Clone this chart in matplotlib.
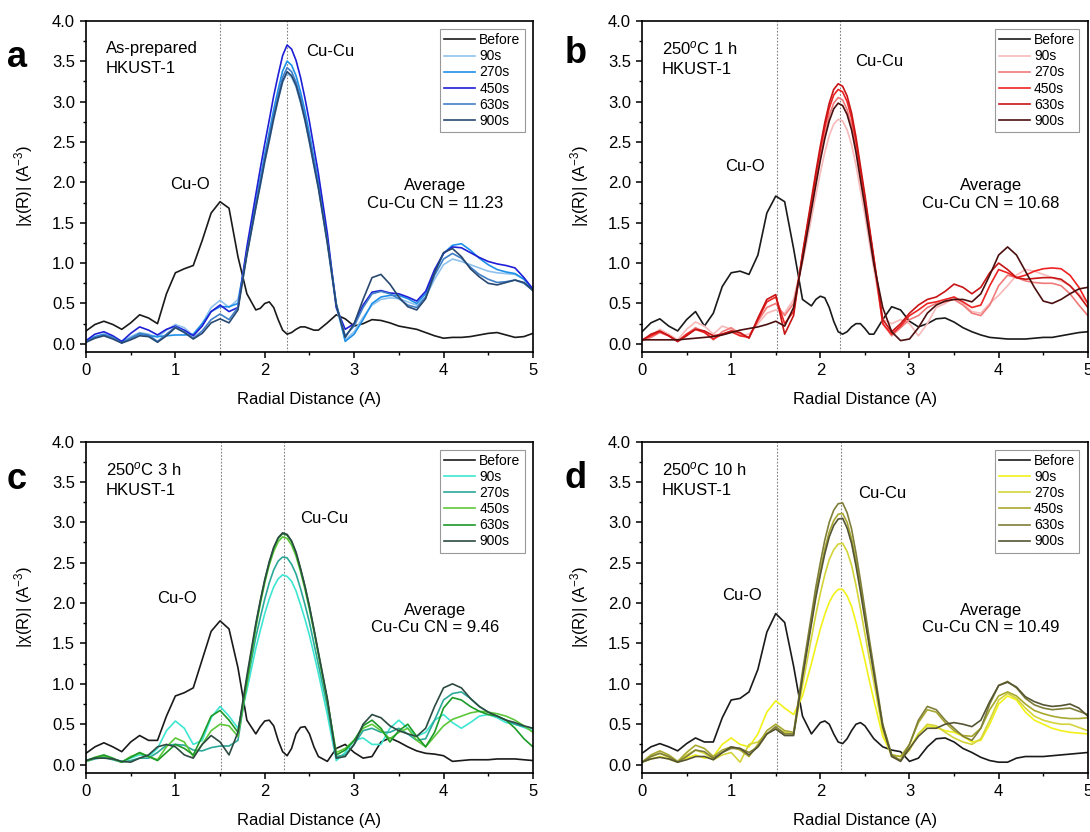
import matplotlib
matplotlib.use("Agg")
import matplotlib.pyplot as plt
from matplotlib.ticker import MultipleLocator

plt.rcParams['font.family'] = ['Liberation Sans', 'DejaVu Sans']
plt.rcParams['mathtext.fontset'] = 'custom'
plt.rcParams['mathtext.rm'] = 'Liberation Sans'
plt.rcParams['mathtext.it'] = 'Liberation Sans:italic'

# radial distance grid (denser over the Cu-Cu peak)
R = [0.0, 0.1, 0.2, 0.3, 0.4, 0.5, 0.6, 0.7, 0.8, 0.9,
     1.0, 1.1, 1.2, 1.3, 1.4, 1.5, 1.6, 1.7, 1.8, 1.9,
     1.95, 2.0, 2.05, 2.1, 2.15, 2.2, 2.25, 2.3, 2.35, 2.4,
     2.45, 2.5, 2.55, 2.6,
     2.7, 2.8, 2.9, 3.0, 3.1, 3.2, 3.3, 3.4, 3.5, 3.6,
     3.7, 3.8, 3.9, 4.0, 4.1, 4.2, 4.3, 4.4, 4.5, 4.6,
     4.7, 4.8, 4.9, 5.0]

labels = ['Before', '90s', '270s', '450s', '630s', '900s']

# ---- panel a: as-prepared
a_before = [0.16, 0.24, 0.28, 0.24, 0.18, 0.26, 0.36, 0.32, 0.25, 0.62, 0.88, 0.93, 0.97, 1.28, 1.62, 1.76, 1.68, 1.08, 0.62, 0.42,
            0.44, 0.50, 0.52, 0.45, 0.30, 0.17, 0.12, 0.14, 0.18, 0.21, 0.21, 0.19, 0.17, 0.17,
            0.26, 0.36, 0.31, 0.22, 0.25, 0.30, 0.29, 0.26, 0.22, 0.20, 0.18, 0.14, 0.10, 0.07, 0.08, 0.08, 0.09, 0.11, 0.13, 0.14, 0.11, 0.08, 0.09, 0.13]
a_90 = [0.03, 0.08, 0.11, 0.08, 0.03, 0.09, 0.14, 0.12, 0.08, 0.17, 0.24, 0.20, 0.10, 0.25, 0.45, 0.54, 0.45, 0.55, 1.10, 1.68,
        1.96, 2.25, 2.51, 2.78, 3.02, 3.24, 3.35, 3.30, 3.18, 2.99, 2.76, 2.49, 2.20, 1.92,
        1.24, 0.45, 0.05, 0.15, 0.33, 0.48, 0.55, 0.57, 0.56, 0.52, 0.48, 0.58, 0.80, 0.98, 1.05, 1.02, 0.98, 0.94, 0.90, 0.88, 0.87, 0.86, 0.80, 0.67]
a_270 = [0.04, 0.09, 0.12, 0.08, 0.02, 0.07, 0.12, 0.10, 0.09, 0.10, 0.11, 0.11, 0.12, 0.25, 0.40, 0.46, 0.46, 0.50, 1.15, 1.75,
         2.05, 2.35, 2.62, 2.90, 3.15, 3.38, 3.50, 3.45, 3.32, 3.12, 2.88, 2.60, 2.30, 2.00,
         1.30, 0.50, 0.03, 0.12, 0.30, 0.50, 0.58, 0.60, 0.60, 0.56, 0.50, 0.62, 0.88, 1.12, 1.22, 1.24, 1.16, 1.06, 0.98, 0.92, 0.89, 0.87, 0.80, 0.67]
a_450 = [0.04, 0.12, 0.15, 0.10, 0.03, 0.13, 0.21, 0.17, 0.11, 0.18, 0.22, 0.17, 0.10, 0.22, 0.40, 0.48, 0.40, 0.45, 1.20, 1.85,
         2.17, 2.48, 2.77, 3.07, 3.33, 3.57, 3.70, 3.65, 3.51, 3.30, 3.04, 2.75, 2.43, 2.11,
         1.37, 0.45, 0.18, 0.25, 0.48, 0.64, 0.66, 0.63, 0.62, 0.58, 0.53, 0.65, 0.92, 1.12, 1.20, 1.19, 1.13, 1.07, 1.02, 0.99, 0.97, 0.94, 0.82, 0.68]
a_630 = [0.02, 0.08, 0.11, 0.08, 0.01, 0.07, 0.13, 0.11, 0.03, 0.12, 0.21, 0.15, 0.07, 0.16, 0.30, 0.37, 0.30, 0.45, 1.12, 1.71,
         2.00, 2.30, 2.56, 2.83, 3.08, 3.30, 3.42, 3.37, 3.24, 3.05, 2.81, 2.54, 2.25, 1.95,
         1.27, 0.49, 0.10, 0.22, 0.45, 0.62, 0.65, 0.62, 0.56, 0.48, 0.45, 0.58, 0.85, 1.05, 1.12, 1.06, 0.95, 0.86, 0.80, 0.76, 0.77, 0.79, 0.75, 0.66]
a_900 = [0.02, 0.07, 0.10, 0.06, 0.01, 0.05, 0.10, 0.09, 0.02, 0.10, 0.20, 0.14, 0.06, 0.13, 0.26, 0.31, 0.26, 0.42, 1.10, 1.69,
         1.97, 2.26, 2.52, 2.79, 3.03, 3.25, 3.37, 3.32, 3.20, 3.00, 2.77, 2.50, 2.21, 1.93,
         1.25, 0.48, 0.08, 0.25, 0.55, 0.82, 0.86, 0.74, 0.58, 0.46, 0.42, 0.56, 0.88, 1.13, 1.18, 1.08, 0.93, 0.83, 0.75, 0.73, 0.76, 0.79, 0.76, 0.66]

# ---- panel b: 250C 1 h
b_before = [0.15, 0.26, 0.31, 0.22, 0.16, 0.30, 0.40, 0.22, 0.38, 0.71, 0.88, 0.90, 0.86, 1.10, 1.62, 1.83, 1.76, 1.18, 0.55, 0.47,
            0.55, 0.59, 0.57, 0.45, 0.28, 0.15, 0.12, 0.15, 0.21, 0.25, 0.25, 0.19, 0.12, 0.12,
            0.30, 0.46, 0.42, 0.28, 0.21, 0.25, 0.31, 0.32, 0.27, 0.20, 0.15, 0.11, 0.08, 0.07, 0.06, 0.06, 0.06, 0.07, 0.08, 0.08, 0.10, 0.12, 0.14, 0.15]
b_90 = [0.05, 0.10, 0.18, 0.12, 0.05, 0.18, 0.27, 0.22, 0.12, 0.22, 0.18, 0.10, 0.12, 0.25, 0.38, 0.42, 0.38, 0.55, 1.00, 1.55,
        1.84, 2.12, 2.37, 2.58, 2.72, 2.78, 2.76, 2.65, 2.47, 2.21, 1.90, 1.59, 1.25, 0.93,
        0.30, 0.25, 0.30, 0.25, 0.10, 0.25, 0.45, 0.50, 0.58, 0.50, 0.40, 0.38, 0.50, 0.60, 0.72, 0.85, 0.92, 0.90, 0.86, 0.82, 0.78, 0.72, 0.62, 0.50]
b_270 = [0.04, 0.08, 0.14, 0.10, 0.03, 0.12, 0.20, 0.15, 0.05, 0.15, 0.20, 0.12, 0.08, 0.28, 0.45, 0.50, 0.35, 0.50, 1.06, 1.69,
         2.01, 2.32, 2.59, 2.83, 2.98, 3.05, 3.02, 2.90, 2.71, 2.42, 2.08, 1.74, 1.38, 1.02,
         0.25, 0.10, 0.20, 0.30, 0.35, 0.45, 0.50, 0.52, 0.55, 0.48, 0.38, 0.35, 0.48, 0.72, 0.85, 0.82, 0.78, 0.76, 0.75, 0.75, 0.72, 0.62, 0.48, 0.35]
b_450 = [0.05, 0.10, 0.15, 0.10, 0.03, 0.12, 0.18, 0.14, 0.06, 0.12, 0.15, 0.10, 0.08, 0.30, 0.52, 0.58, 0.25, 0.40, 1.10, 1.75,
         2.08, 2.40, 2.68, 2.92, 3.08, 3.15, 3.12, 3.00, 2.80, 2.50, 2.15, 1.80, 1.42, 1.05,
         0.25, 0.12, 0.22, 0.35, 0.42, 0.50, 0.52, 0.55, 0.58, 0.52, 0.45, 0.48, 0.72, 0.92, 0.88, 0.82, 0.85, 0.90, 0.93, 0.94, 0.93, 0.85, 0.70, 0.50]
b_630 = [0.04, 0.12, 0.16, 0.10, 0.03, 0.10, 0.18, 0.16, 0.10, 0.12, 0.16, 0.14, 0.07, 0.32, 0.55, 0.61, 0.12, 0.35, 1.12, 1.79,
         2.13, 2.45, 2.74, 2.98, 3.15, 3.22, 3.19, 3.07, 2.86, 2.56, 2.20, 1.84, 1.45, 1.07,
         0.30, 0.15, 0.25, 0.38, 0.48, 0.55, 0.58, 0.65, 0.74, 0.70, 0.62, 0.70, 0.88, 1.00, 0.92, 0.82, 0.80, 0.81, 0.82, 0.82, 0.80, 0.72, 0.60, 0.45]
b_900 = [0.05, 0.05, 0.05, 0.05, 0.05, 0.06, 0.07, 0.08, 0.09, 0.11, 0.14, 0.17, 0.19, 0.21, 0.24, 0.28, 0.22, 0.45, 1.04, 1.66,
         1.97, 2.27, 2.54, 2.76, 2.91, 2.98, 2.95, 2.84, 2.65, 2.37, 2.03, 1.70, 1.34, 0.99,
         0.45, 0.15, 0.04, 0.06, 0.20, 0.38, 0.48, 0.53, 0.55, 0.55, 0.52, 0.62, 0.85, 1.10, 1.20, 1.10, 0.90, 0.70, 0.53, 0.50, 0.55, 0.62, 0.68, 0.70]

# ---- panel c: 250C 3 h
c_before = [0.14, 0.22, 0.27, 0.22, 0.16, 0.28, 0.36, 0.30, 0.30, 0.60, 0.85, 0.89, 0.95, 1.30, 1.65, 1.78, 1.68, 1.20, 0.55, 0.38,
            0.47, 0.54, 0.55, 0.48, 0.30, 0.16, 0.11, 0.20, 0.38, 0.46, 0.47, 0.38, 0.22, 0.10,
            0.04, 0.20, 0.25, 0.15, 0.08, 0.10, 0.28, 0.33, 0.28, 0.22, 0.17, 0.14, 0.13, 0.11, 0.04, 0.05, 0.06, 0.06, 0.06, 0.07, 0.07, 0.07, 0.06, 0.05]
c_90 = [0.05, 0.08, 0.10, 0.07, 0.04, 0.08, 0.12, 0.10, 0.20, 0.42, 0.54, 0.45, 0.25, 0.30, 0.58, 0.72, 0.60, 0.45, 0.92, 1.44,
        1.66, 1.87, 2.05, 2.20, 2.30, 2.35, 2.33, 2.27, 2.15, 1.98, 1.80, 1.60, 1.37, 1.13,
        0.62, 0.05, 0.15, 0.30, 0.33, 0.25, 0.25, 0.45, 0.55, 0.45, 0.35, 0.40, 0.55, 0.62, 0.52, 0.45, 0.52, 0.60, 0.62, 0.58, 0.52, 0.50, 0.46, 0.42]
c_270 = [0.04, 0.07, 0.09, 0.06, 0.03, 0.05, 0.08, 0.08, 0.15, 0.24, 0.25, 0.24, 0.18, 0.17, 0.21, 0.23, 0.23, 0.30, 1.00, 1.58,
         1.82, 2.05, 2.25, 2.41, 2.52, 2.57, 2.56, 2.48, 2.36, 2.18, 1.98, 1.76, 1.50, 1.24,
         0.72, 0.10, 0.12, 0.25, 0.42, 0.45, 0.40, 0.40, 0.45, 0.38, 0.30, 0.32, 0.55, 0.80, 0.88, 0.90, 0.82, 0.72, 0.65, 0.60, 0.55, 0.50, 0.47, 0.45]
c_450 = [0.04, 0.08, 0.11, 0.07, 0.03, 0.10, 0.14, 0.10, 0.06, 0.22, 0.33, 0.28, 0.10, 0.25, 0.42, 0.50, 0.48, 0.35, 1.00, 1.70,
         1.99, 2.25, 2.47, 2.64, 2.76, 2.82, 2.80, 2.72, 2.58, 2.39, 2.17, 1.92, 1.65, 1.36,
         0.79, 0.15, 0.20, 0.30, 0.45, 0.50, 0.42, 0.32, 0.40, 0.45, 0.30, 0.22, 0.35, 0.48, 0.56, 0.60, 0.64, 0.66, 0.65, 0.63, 0.60, 0.55, 0.48, 0.40]
c_630 = [0.05, 0.09, 0.12, 0.08, 0.03, 0.09, 0.15, 0.10, 0.05, 0.15, 0.25, 0.20, 0.12, 0.35, 0.60, 0.67, 0.55, 0.40, 1.05, 1.72,
         2.02, 2.28, 2.50, 2.68, 2.80, 2.86, 2.84, 2.76, 2.62, 2.42, 2.20, 1.95, 1.67, 1.38,
         0.80, 0.12, 0.18, 0.30, 0.48, 0.55, 0.45, 0.28, 0.42, 0.50, 0.35, 0.22, 0.40, 0.70, 0.83, 0.80, 0.72, 0.66, 0.62, 0.60, 0.55, 0.45, 0.32, 0.22]
c_900 = [0.05, 0.08, 0.08, 0.07, 0.04, 0.03, 0.08, 0.12, 0.22, 0.25, 0.22, 0.12, 0.08, 0.25, 0.36, 0.28, 0.12, 0.40, 1.10, 1.75,
         2.03, 2.29, 2.51, 2.69, 2.81, 2.87, 2.85, 2.77, 2.63, 2.43, 2.21, 1.96, 1.68, 1.39,
         0.82, 0.08, 0.10, 0.25, 0.50, 0.62, 0.58, 0.48, 0.42, 0.38, 0.35, 0.45, 0.72, 0.95, 1.00, 0.95, 0.82, 0.72, 0.65, 0.60, 0.55, 0.52, 0.48, 0.45]

# ---- panel d: 250C 10 h
d_before = [0.14, 0.22, 0.26, 0.22, 0.17, 0.26, 0.33, 0.28, 0.28, 0.58, 0.80, 0.82, 0.90, 1.18, 1.64, 1.87, 1.76, 1.22, 0.60, 0.38,
            0.45, 0.52, 0.54, 0.50, 0.38, 0.28, 0.26, 0.32, 0.42, 0.50, 0.52, 0.48, 0.40, 0.32,
            0.22, 0.18, 0.16, 0.04, 0.08, 0.22, 0.32, 0.33, 0.28, 0.20, 0.15, 0.09, 0.05, 0.03, 0.03, 0.08, 0.10, 0.10, 0.10, 0.11, 0.12, 0.13, 0.14, 0.15]
d_90 = [0.03, 0.07, 0.10, 0.07, 0.03, 0.08, 0.12, 0.08, 0.10, 0.25, 0.33, 0.25, 0.22, 0.38, 0.65, 0.79, 0.70, 0.62, 0.85, 1.25,
        1.47, 1.68, 1.86, 2.01, 2.11, 2.17, 2.17, 2.09, 1.96, 1.76, 1.53, 1.29, 1.04, 0.80,
        0.35, 0.12, 0.10, 0.20, 0.38, 0.48, 0.46, 0.42, 0.40, 0.35, 0.28, 0.30, 0.50, 0.75, 0.85, 0.80, 0.65, 0.55, 0.50, 0.45, 0.42, 0.40, 0.39, 0.38]
d_270 = [0.03, 0.10, 0.14, 0.09, 0.03, 0.12, 0.18, 0.14, 0.06, 0.12, 0.15, 0.03, 0.25, 0.28, 0.38, 0.45, 0.40, 0.38, 0.98, 1.57,
         1.86, 2.12, 2.35, 2.54, 2.66, 2.73, 2.74, 2.64, 2.47, 2.22, 1.93, 1.62, 1.31, 1.02,
         0.42, 0.10, 0.06, 0.18, 0.38, 0.50, 0.48, 0.40, 0.33, 0.28, 0.25, 0.32, 0.55, 0.80, 0.88, 0.82, 0.70, 0.60, 0.55, 0.52, 0.50, 0.50, 0.46, 0.42]
d_450 = [0.03, 0.12, 0.17, 0.12, 0.04, 0.15, 0.24, 0.20, 0.10, 0.18, 0.22, 0.18, 0.10, 0.25, 0.42, 0.50, 0.42, 0.40, 1.10, 1.78,
         2.11, 2.40, 2.67, 2.88, 3.02, 3.10, 3.11, 3.00, 2.80, 2.52, 2.19, 1.84, 1.49, 1.15,
         0.48, 0.12, 0.10, 0.25, 0.52, 0.68, 0.65, 0.52, 0.42, 0.36, 0.35, 0.45, 0.68, 0.85, 0.90, 0.85, 0.75, 0.67, 0.63, 0.60, 0.58, 0.57, 0.57, 0.58]
d_630 = [0.03, 0.10, 0.14, 0.10, 0.03, 0.10, 0.18, 0.16, 0.08, 0.15, 0.20, 0.20, 0.15, 0.22, 0.38, 0.47, 0.38, 0.38, 1.15, 1.85,
         2.20, 2.50, 2.78, 3.00, 3.15, 3.23, 3.24, 3.12, 2.92, 2.62, 2.28, 1.92, 1.55, 1.20,
         0.50, 0.12, 0.05, 0.25, 0.55, 0.72, 0.68, 0.55, 0.45, 0.35, 0.30, 0.45, 0.75, 0.98, 1.03, 0.95, 0.82, 0.74, 0.70, 0.68, 0.69, 0.70, 0.66, 0.62]
d_900 = [0.03, 0.07, 0.09, 0.07, 0.03, 0.06, 0.10, 0.10, 0.06, 0.15, 0.22, 0.20, 0.12, 0.22, 0.38, 0.44, 0.36, 0.36, 1.08, 1.74,
         2.07, 2.35, 2.61, 2.82, 2.96, 3.04, 3.05, 2.93, 2.74, 2.46, 2.14, 1.80, 1.46, 1.13,
         0.47, 0.10, 0.04, 0.20, 0.35, 0.45, 0.45, 0.50, 0.52, 0.50, 0.47, 0.55, 0.78, 0.98, 1.02, 0.96, 0.84, 0.78, 0.74, 0.72, 0.73, 0.75, 0.70, 0.60]

panels = [
    dict(letter='a', sample='As-prepared\nHKUST-1', cn='11.23',
         series=[a_before, a_90, a_270, a_450, a_630, a_900],
         colors=['#1a1a1a', '#8fc3ee', '#1e90e8', '#1f1fd6', '#3f7fc8', '#284870'],
         vlines=[1.50, 2.25], cuo=(1.16, 1.97), cucu=(2.73, 3.62), avg_y=1.85,
         rect=[0.0789, 0.577, 0.410, 0.398], lpos=(0.0156, 0.931)),
    dict(letter='b', sample='250$^{o}$C 1 h\nHKUST-1', cn='10.68',
         series=[b_before, b_90, b_270, b_450, b_630, b_900],
         colors=['#1a1a1a', '#f7b9b9', '#f07a7a', '#ee2222', '#c81414', '#4a0f0f'],
         vlines=[1.51, 2.22], cuo=(1.15, 2.19), cucu=(2.66, 3.49), avg_y=1.85,
         rect=[0.589, 0.577, 0.409, 0.398], lpos=(0.528, 0.936)),
    dict(letter='c', sample='250$^{o}$C 3 h\nHKUST-1', cn='9.46',
         series=[c_before, c_90, c_270, c_450, c_630, c_900],
         colors=['#1a1a1a', '#3ee6d2', '#2aa898', '#5cc83a', '#1e9a28', '#2d4a42'],
         vlines=[1.51, 2.21], cuo=(1.02, 2.06), cucu=(2.67, 3.05), avg_y=1.80,
         rect=[0.0789, 0.0713, 0.410, 0.398], lpos=(0.0156, 0.424)),
    dict(letter='d', sample='250$^{o}$C 10 h\nHKUST-1', cn='10.49',
         series=[d_before, d_90, d_270, d_450, d_630, d_900],
         colors=['#1a1a1a', '#f2f21a', '#d4d43a', '#a8a830', '#7f7f3a', '#555533'],
         vlines=[1.51, 2.23], cuo=(1.12, 2.09), cucu=(2.69, 3.36), avg_y=1.80,
         rect=[0.589, 0.0713, 0.409, 0.398], lpos=(0.528, 0.425)),
]

fig = plt.figure(figsize=(10.9, 8.32), dpi=100)

for p in panels:
    ax = fig.add_axes(p['rect'])
    for y, c, lab in zip(p['series'], p['colors'], labels):
        ax.plot(R, y, color=c, lw=1.2, label=lab)
    for v in p['vlines']:
        ax.axvline(v, color='#808080', lw=0.8, ls=(0, (1.5, 1.5)), zorder=0)

    ax.set_xlim(0, 5)
    ax.set_ylim(-0.1, 4.0)
    ax.xaxis.set_major_locator(MultipleLocator(1))
    ax.xaxis.set_minor_locator(MultipleLocator(0.5))
    ax.yaxis.set_major_locator(MultipleLocator(0.5))
    ax.yaxis.set_minor_locator(MultipleLocator(0.25))
    ax.tick_params(which='major', direction='out', length=4.5, width=1.1, labelsize=12)
    ax.tick_params(which='minor', direction='out', length=2.5, width=1.0)
    for s in ax.spines.values():
        s.set_linewidth(1.2)

    ax.set_xlabel('Radial Distance (A)', fontsize=12, labelpad=10)
    ax.set_ylabel('|χ(R)| (A$^{\\mathregular{-3}}$)', fontsize=12, labelpad=12)

    ax.text(0.22, 3.535, p['sample'], fontsize=12, ha='left', va='center', linespacing=1.4)
    ax.text(p['cuo'][0], p['cuo'][1], 'Cu-O', fontsize=12, ha='center', va='center')
    ax.text(p['cucu'][0], p['cucu'][1], 'Cu-Cu', fontsize=12, ha='center', va='center')
    ax.text(3.91, p['avg_y'], 'Average\nCu-Cu CN = ' + p['cn'], fontsize=12,
            ha='center', va='center', linespacing=1.2)

    leg = ax.legend(loc='upper right', fontsize=10, handlelength=2.2, handletextpad=0.3,
                    labelspacing=0.15, borderpad=0.3, borderaxespad=0.6,
                    fancybox=False, framealpha=1)
    leg.get_frame().set_edgecolor('#999999')
    leg.get_frame().set_linewidth(0.8)

    fig.text(p['lpos'][0], p['lpos'][1], p['letter'], fontsize=26, fontweight='bold',
             ha='center', va='center')

fig.savefig('out.png', dpi=100)
